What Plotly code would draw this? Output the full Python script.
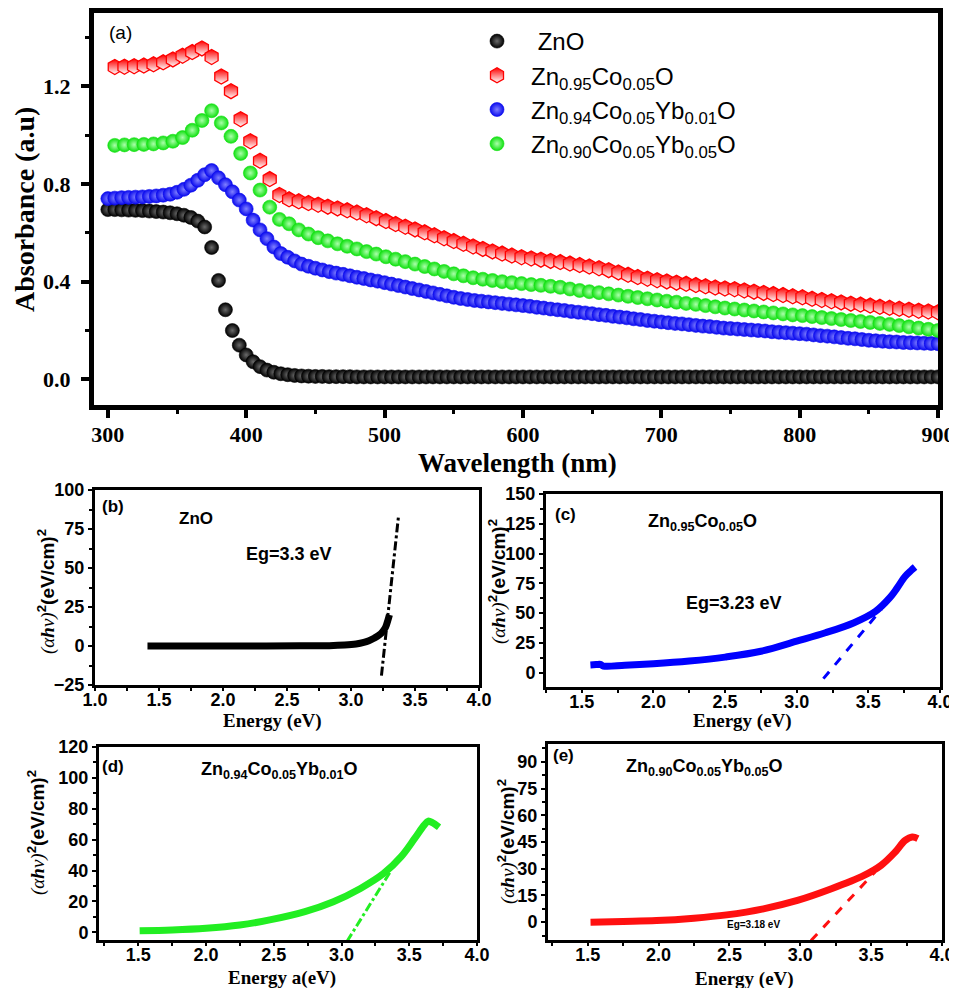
import plotly.graph_objects as go

# ---------------- data: panel (a) ----------------
wl_5 = list(range(300, 901, 5))      # ZnO and Zn0.94Co0.05Yb0.01O
wl_7 = list(range(305, 901, 7))      # Zn0.95Co0.05O and Zn0.90Co0.05Yb0.05O

abs_zno = [0.695, 0.695, 0.694, 0.693, 0.692, 0.691, 0.689, 0.687, 0.685, 0.682, 0.678, 0.672, 0.663, 0.648,
           0.624, 0.540, 0.405, 0.285, 0.200, 0.140, 0.100, 0.072, 0.052, 0.038, 0.029, 0.023, 0.019, 0.016, 0.014, 0.013, 0.012, 0.012, 0.011,
           0.011, 0.011, 0.011, 0.010, 0.010, 0.010, 0.010, 0.010, 0.010, 0.010, 0.010,
           0.010, 0.010, 0.010, 0.010, 0.010, 0.010, 0.010, 0.010, 0.010, 0.010, 0.010,
           0.010, 0.010, 0.010, 0.010, 0.010, 0.010, 0.010, 0.010, 0.010, 0.010, 0.010,
           0.010, 0.010, 0.010, 0.010, 0.010, 0.010, 0.010, 0.010, 0.010, 0.010, 0.010,
           0.010, 0.010, 0.010, 0.010, 0.010, 0.010, 0.010, 0.010, 0.010, 0.010, 0.010,
           0.010, 0.010, 0.010, 0.010, 0.010, 0.010, 0.010, 0.010, 0.010, 0.010, 0.010,
           0.010, 0.010, 0.010, 0.010, 0.010, 0.010, 0.010, 0.010, 0.010, 0.010, 0.010,
           0.010, 0.010, 0.010, 0.010, 0.010, 0.010, 0.010, 0.010, 0.010, 0.010, 0.010]

abs_co = [1.279, 1.280, 1.282, 1.285, 1.290, 1.298, 1.310, 1.325, 1.340, 1.355,
          1.320, 1.240, 1.180, 1.065, 0.975, 0.895, 0.820, 0.755, 0.737, 0.729,
          0.722, 0.715, 0.707, 0.700, 0.692, 0.683, 0.672, 0.660, 0.648, 0.636,
          0.625, 0.614, 0.602, 0.590, 0.578, 0.566, 0.555, 0.544, 0.534, 0.524,
          0.515, 0.507, 0.500, 0.495, 0.490, 0.485, 0.480, 0.474, 0.468, 0.462,
          0.455, 0.447, 0.438, 0.428, 0.419, 0.412, 0.406, 0.401, 0.396, 0.391,
          0.386, 0.381, 0.376, 0.372, 0.369, 0.364, 0.359, 0.354, 0.349, 0.345,
          0.340, 0.336, 0.330, 0.325, 0.320, 0.315, 0.310, 0.306, 0.302, 0.297,
          0.293, 0.289, 0.285, 0.281, 0.278, 0.275]

abs_yb01 = [0.740, 0.742, 0.744, 0.745, 0.746, 0.747, 0.749, 0.751, 0.754, 0.758,
            0.766, 0.778, 0.795, 0.815, 0.838, 0.855, 0.825, 0.797, 0.768, 0.734,
            0.698, 0.652, 0.612, 0.576, 0.542, 0.515, 0.500, 0.485, 0.472, 0.463,
            0.455, 0.448, 0.441, 0.435, 0.430, 0.424, 0.418, 0.413, 0.407, 0.402,
            0.396, 0.390, 0.384, 0.378, 0.372, 0.366, 0.360, 0.354, 0.348, 0.342,
            0.336, 0.331, 0.327, 0.323, 0.320, 0.317, 0.314, 0.311, 0.308, 0.305,
            0.302, 0.299, 0.295, 0.292, 0.288, 0.285, 0.282, 0.278, 0.275, 0.272,
            0.269, 0.265, 0.262, 0.258, 0.255, 0.252, 0.248, 0.245, 0.241, 0.238,
            0.235, 0.232, 0.229, 0.227, 0.224, 0.221, 0.218, 0.216, 0.213, 0.210,
            0.208, 0.206, 0.204, 0.202, 0.200, 0.198, 0.195, 0.193, 0.191, 0.189,
            0.187, 0.185, 0.182, 0.179, 0.177, 0.174, 0.171, 0.168, 0.166, 0.163,
            0.160, 0.158, 0.156, 0.154, 0.153, 0.151, 0.150, 0.149, 0.148, 0.147,
            0.146]

abs_yb05 = [0.958, 0.960, 0.961, 0.962, 0.964, 0.968, 0.975, 0.990, 1.020, 1.060,
            1.100, 1.050, 0.995, 0.925, 0.845, 0.775, 0.705, 0.655, 0.637, 0.612,
            0.595, 0.580, 0.567, 0.555, 0.545, 0.534, 0.523, 0.513, 0.502, 0.492,
            0.482, 0.472, 0.462, 0.452, 0.442, 0.432, 0.424, 0.416, 0.410, 0.405,
            0.400, 0.396, 0.392, 0.388, 0.385, 0.381, 0.377, 0.370, 0.364, 0.359,
            0.355, 0.350, 0.345, 0.340, 0.335, 0.330, 0.325, 0.320, 0.316, 0.311,
            0.307, 0.302, 0.297, 0.292, 0.288, 0.284, 0.280, 0.276, 0.272, 0.268,
            0.264, 0.261, 0.257, 0.253, 0.249, 0.245, 0.241, 0.237, 0.233, 0.229,
            0.225, 0.220, 0.215, 0.210, 0.205, 0.200]

assert len(abs_zno) == len(wl_5), (len(abs_zno), len(wl_5))
assert len(abs_yb01) == len(wl_5), (len(abs_yb01), len(wl_5))
assert len(abs_co) == len(wl_7), (len(abs_co), len(wl_7))
assert len(abs_yb05) == len(wl_7), (len(abs_yb05), len(wl_7))

names = [" ZnO",
         "Zn<sub>0.95</sub>Co<sub>0.05</sub>O",
         "Zn<sub>0.94</sub>Co<sub>0.05</sub>Yb<sub>0.01</sub>O",
         "Zn<sub>0.90</sub>Co<sub>0.05</sub>Yb<sub>0.05</sub>O"]

# ---------------- data: Tauc plots (b)-(e) ----------------
b_E = [1.41, 1.8, 2.2, 2.6, 2.83, 2.95, 3.04, 3.10, 3.14, 3.18, 3.22, 3.25, 3.27, 3.29, 3.30]
b_A = [0.0, 0.0, 0.0, 0.1, 0.2, 0.6, 1.3, 2.3, 3.4, 5.0, 7.0, 9.5, 12.0, 17.0, 20.0]
b_fitE = [3.238, 3.372]
b_fitA = [-19, 84]

c_E = [1.56, 1.60, 1.63, 1.65, 1.8, 2.0, 2.25, 2.5, 2.75, 3.0, 3.2, 3.4, 3.55, 3.65, 3.7, 3.756, 3.8, 3.826]
c_A = [6.5, 6.8, 7.0, 5.6, 6.2, 7.5, 9.8, 13.1, 18.0, 26.5, 33.5, 42.0, 51.5, 63.0, 71.0, 80.8, 86.0, 88.7]
c_fitE = [3.186, 3.593]
c_fitA = [-5, 53.5]

d_E = [1.51, 1.75, 2.0, 2.25, 2.47, 2.73, 2.94, 3.14, 3.31, 3.44, 3.54, 3.61, 3.64, 3.67, 3.72]
d_A = [1.0, 1.5, 2.6, 4.7, 8.0, 13.4, 19.8, 28.4, 38.0, 49.0, 60.8, 69.4, 72.0, 71.0, 68.0]
d_fitE = [3.04, 3.36]
d_fitA = [-6, 39.2]

e_E = [1.52, 1.75, 1.986, 2.25, 2.48, 2.74, 2.98, 3.22, 3.45, 3.57, 3.67, 3.74, 3.79, 3.83]
e_A = [0.0, 0.4, 0.9, 2.25, 4.1, 7.5, 12.2, 18.75, 26.25, 31.9, 39.4, 45.9, 47.8, 46.9]
e_fitE = [3.076, 3.526]
e_fitA = [-10.3, 28.1]

# ---------------- layout helpers ----------------
# the page body adds an 8 px offset; positions below are in screenshot pixels
OFF = 8
W, H = 957 - OFF, 988 - OFF
def PX(x):
    return (x - OFF) / W
def PY(y):
    return 1 - (y - OFF) / H

fig = go.Figure()

def sphere(color, center, size=14):
    return dict(size=size, color=color, symbol="circle",
                gradient=dict(type="radial", color=center),
                line=dict(width=0.6, color=color))

fig.add_trace(go.Scatter(x=wl_5, y=abs_zno, mode="markers", name=names[0], legendgroup="g1",
                         marker=sphere("#000000", "#6a6a6a"), xaxis="x", yaxis="y"))
fig.add_trace(go.Scatter(x=wl_7, y=abs_co, mode="markers", name=names[1], legendgroup="g2",
                         marker=dict(size=15, symbol="hexagon", color="#ff0000",
                                     gradient=dict(type="vertical", color="#ffffff"),
                                     line=dict(width=1.3, color="#ff0000")),
                         xaxis="x", yaxis="y"))
fig.add_trace(go.Scatter(x=wl_5, y=abs_yb01, mode="markers", name=names[2], legendgroup="g3",
                         marker=sphere("#0a0aee", "#8080ff"), xaxis="x", yaxis="y"))
fig.add_trace(go.Scatter(x=wl_7, y=abs_yb05, mode="markers", name=names[3], legendgroup="g4",
                         marker=sphere("#10e010", "#aaffaa"), xaxis="x", yaxis="y"))

def tauc(E, A, fE, fA, color, dash, xa, ya):
    fig.add_trace(go.Scatter(x=E, y=A, mode="lines", line=dict(color=color, width=7, shape="spline", smoothing=1.0),
                             showlegend=False, xaxis=xa, yaxis=ya))
    fig.add_trace(go.Scatter(x=fE, y=fA, mode="lines", line=dict(color=color, width=3, dash=dash),
                             showlegend=False, xaxis=xa, yaxis=ya))

tauc(b_E, b_A, b_fitE, b_fitA, "#000000", "dashdot", "x2", "y2")
tauc(c_E, c_A, c_fitE, c_fitA, "#0000ff", "dash", "x3", "y3")
tauc(d_E, d_A, d_fitE, d_fitA, "#22ee22", "dashdot", "x4", "y4")
tauc(e_E, e_A, e_fitE, e_fitA, "#ff1010", "dash", "x5", "y5")

serif = "Liberation Serif"
sans = "Liberation Sans"

def ax(dom, rng, dtick, lw, fs, family, tick0, anchor, fmt=None, tlen=4, twid=2, standoff=None,
       mdt=None, mlen=3, mwid=1.5):
    d = dict(domain=dom, range=rng, dtick=dtick, tick0=tick0, anchor=anchor,
             showline=True, mirror=True, linecolor="#000000", linewidth=lw,
             ticks="outside", ticklen=tlen, tickwidth=twid, tickcolor="#000000",
             showgrid=False, zeroline=False,
             tickfont=dict(family=family, size=fs, color="black", weight="bold"))
    if fmt:
        d["tickformat"] = fmt
    if standoff is not None:
        d["ticklabelstandoff"] = standoff
    if mdt is not None:
        d["minor"] = dict(dtick=mdt, tick0=tick0, ticks="outside", ticklen=mlen, tickwidth=mwid)
    return d

fig.update_layout(
    width=W, height=H,
    margin=dict(l=0, r=0, t=0, b=0, pad=0, autoexpand=False),
    plot_bgcolor="white", paper_bgcolor="white", showlegend=True,
    xaxis=ax([PX(94), PX(938)], [290, 900], 100, 5, 22, serif, 300, "y", tlen=8, twid=4, mdt=50, mlen=4, mwid=3,
             standoff=-2),
    yaxis=ax([PY(405), PY(13)], [-0.105, 1.5], 0.4, 5, 22, serif, 0, "x", ".1f", tlen=8, twid=4, standoff=6,
             mdt=0.2, mlen=4, mwid=3),
    xaxis2=ax([PX(95), PX(479)], [1.0, 4.0], 0.5, 3, 18, sans, 1.0, "y2", ".1f", tlen=3, standoff=-7, mdt=0.25),
    yaxis2=ax([PY(685), PY(490)], [-25, 100], 25, 3, 18, sans, 0, "x2", tlen=4, mdt=12.5),
    xaxis3=ax([PX(546), PX(940)], [1.25, 4.0], 0.5, 3, 18, sans, 1.5, "y3", ".1f", tlen=3, standoff=-7, mdt=0.25),
    yaxis3=ax([PY(687), PY(494)], [-12, 150], 25, 3, 18, sans, 0, "x3", tlen=4, mdt=12.5),
    xaxis4=ax([PX(99), PX(477)], [1.21, 4.0], 0.5, 3, 18, sans, 1.5, "y4", ".1f", tlen=3, standoff=-7, mdt=0.25),
    yaxis4=ax([PY(940), PY(747)], [-5, 120], 20, 3, 18, sans, 0, "x4", tlen=4, mdt=10),
    xaxis5=ax([PX(548), PX(942)], [1.22, 4.0], 0.5, 3, 18, sans, 1.5, "y5", ".1f", tlen=3, standoff=-7, mdt=0.25),
    yaxis5=ax([PY(940), PY(744)], [-10, 100], 15, 3, 18, sans, 0, "x5", tlen=4, mdt=7.5),
    legend=dict(x=PX(463), y=PY(19), xanchor="left", yanchor="top", bgcolor="rgba(0,0,0,0)",
                itemwidth=58, font=dict(family=sans, size=24, color="black"), tracegroupgap=0),
)

ylab = ("<span style='font-family:Liberation Serif'><i>(α<b>h</b>ν)</i></span>"
        "<sup><b>2</b></sup><b>(eV/cm)</b><sup><b>2</b></sup>")

ann = []
def A(x, y, text, size, family=sans, bold=False, angle=0, xanchor="center"):
    t = "<b>" + text + "</b>" if bold else text
    ann.append(dict(x=PX(x), y=PY(y), xref="paper", yref="paper", text=t, showarrow=False,
                    font=dict(family=family, size=size, color="black"), textangle=angle,
                    xanchor=xanchor, yanchor="middle"))

A(24, 210, "Absorbance (a.u)", 28, serif, True, -90)
A(517, 463, "Wavelength (nm)", 27, serif, True)
A(107, 33, "(a)", 19, sans, False, xanchor="left")
A(46, 592, ylab, 19, sans, False, -90)
A(272, 721, "Energy (eV)", 19, serif, True)
A(100, 506, "(b)", 17, sans, True, xanchor="left")
A(196, 518, "ZnO", 17, sans, True)
A(289, 554, "Eg=3.3 eV", 18, sans, True)
A(497, 582, ylab, 19, sans, False, -90)
A(742, 721, "Energy (eV)", 19, serif, True)
A(553, 514, "(c)", 17, sans, True, xanchor="left")
A(702, 522, "Zn<sub>0.95</sub>Co<sub>0.05</sub>O", 18, sans, True)
A(734, 603, "Eg=3.23 eV", 18, sans, True)
A(36, 833, ylab, 19, sans, False, -90)
A(282, 978, "Energy a(eV)", 19, serif, True)
A(100, 766, "(d)", 17, sans, True, xanchor="left")
A(279, 770, "Zn<sub>0.94</sub>Co<sub>0.05</sub>Yb<sub>0.01</sub>O", 18, sans, True)
A(506, 842, ylab, 19, sans, False, -90)
A(744, 979, "Energy (eV)", 19, serif, True)
A(551, 755, "(e)", 17, sans, True, xanchor="left")
A(704, 767, "Zn<sub>0.90</sub>Co<sub>0.05</sub>Yb<sub>0.05</sub>O", 18, sans, True)
A(753, 924, "Eg=3.18 eV", 10, sans, True)

fig.update_layout(annotations=ann)

fig.write_html("out.html")
